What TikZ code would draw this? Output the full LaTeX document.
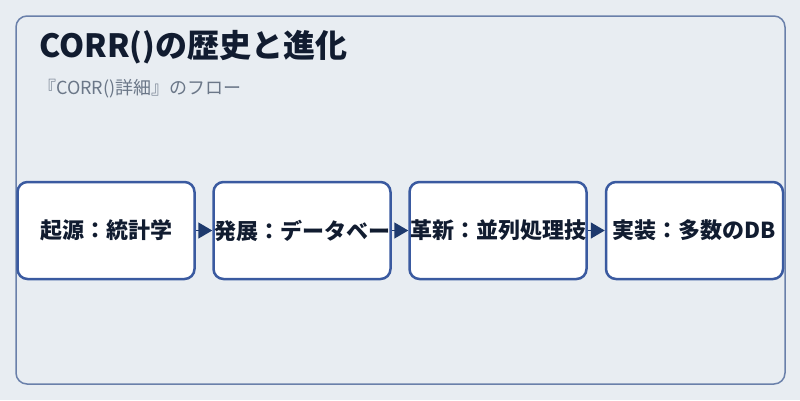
\documentclass[tikz,border=0pt]{standalone}
\usepackage{fontspec}
\setmainfont{Noto Sans CJK JP}
\usetikzlibrary{arrows.meta}
\definecolor{bgcol}{HTML}{E8EDF2}
\definecolor{panelline}{HTML}{6A80AA}
\definecolor{boxline}{HTML}{3A5AA0}
\definecolor{arrowcol}{HTML}{1E3A6E}
\definecolor{titlecol}{HTML}{111C30}
\definecolor{subcol}{HTML}{6B7788}
\tikzset{
    every node/.style={inner sep=0mm}
}
\tikzset{
    stage/.style={rectangle, rounded corners=10pt, draw=boxline, line width=2.5pt, fill=white,
        minimum width=177pt, minimum height=97pt, text=titlecol,
        font=\bfseries\fontsize{22}{26}\selectfont},
    flow/.style={draw=arrowcol, line width=1.5pt, -{Triangle[length=14pt, width=16pt]}}
}

\begin{document}
\begin{tikzpicture}[x=1pt, y=-1pt]
    \useasboundingbox (0,0) rectangle (800,400);
    \fill[bgcol] (0,0) rectangle (800,400);
    \draw[panelline, line width=1.5pt, rounded corners=11pt] (16,16) rectangle (785,384);

    \node (title) [anchor=base west, text=titlecol, font=\bfseries\fontsize{32}{38}\selectfont] at (39,57) {CORR()の歴史と進化};
    \node (sub) [anchor=base west, text=subcol, font=\fontsize{18}{21}\selectfont] at (38,94) {『CORR()詳細』のフロー};

    \node (origin) [stage] at (106,230.5) {起源：統計学};
    \node (growth) [stage] at (302,230.5) {発展：データベー};
    \node (reform) [stage] at (498,230.5) {革新：並列処理技};
    \node (deploy) [stage] at (694.5,230.5) {実装：多数のDB};

    \draw (origin) edge[flow] (growth);
    \draw (growth) edge[flow] (reform);
    \draw (reform) edge[flow] (deploy);
\end{tikzpicture}
\end{document}
